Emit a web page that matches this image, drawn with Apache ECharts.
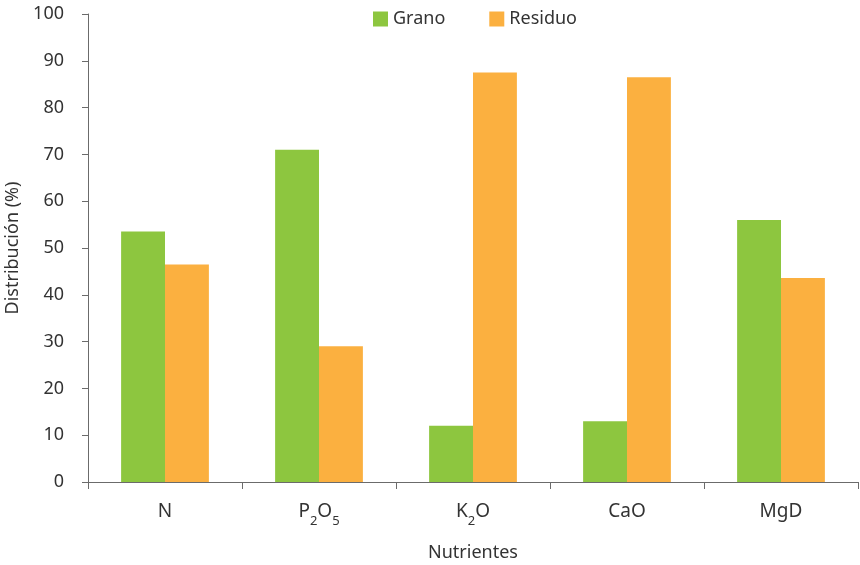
<!DOCTYPE html>
<html>
<head>
<meta charset="utf-8">
<script src="https://cdn.jsdelivr.net/npm/echarts@6/dist/echarts.min.js"></script>
<style>
  html, body { margin: 0; padding: 0; background: #fff; }
  #chart { width: 860px; height: 565px; }
</style>
</head>
<body>
<div id="chart"></div>
<script>
// Nutrient partition between grain and crop residue (%)
const categories = ['N', 'P{s|2}O{s|5}', 'K{s|2}O', 'CaO', 'MgD'];
const grano = [53.5, 71, 12, 13, 56];
const residuo = [46.5, 29, 87.5, 86.5, 43.6];
const yTicks = { min: 0, max: 100, interval: 10 };

const FONT = '"Noto Sans", sans-serif';
const TEXT = '#333333';
const AXIS = '#6b6b6b';

const chart = echarts.init(document.getElementById('chart'), null, { renderer: 'canvas' });

chart.setOption({
  animation: false,
  textStyle: { fontFamily: FONT, color: TEXT },
  legend: {
    top: 5,
    left: 368,
    itemWidth: 15,
    itemHeight: 15,
    itemGap: 44,
    icon: 'rect',
    textStyle: { fontSize: 18, color: TEXT, fontFamily: FONT },
    data: ['Grano', 'Residuo']
  },
  grid: { left: 88, right: 2, top: 14, bottom: 83, containLabel: false, outerBoundsMode: 'none' },
  xAxis: {
    type: 'category',
    data: categories,
    name: 'Nutrientes',
    nameLocation: 'middle',
    nameGap: 62,
    nameTextStyle: { fontSize: 18, color: TEXT, fontFamily: FONT },
    axisLine: { lineStyle: { color: AXIS, width: 1 } },
    axisTick: { show: true, length: 7, lineStyle: { color: AXIS } },
    axisLabel: {
      interval: 0,
      margin: 26,
      formatter: v => '{b|' + v.replace(/\{s\|(\d)\}/g, '}{s|$1}{b|') + '}',
      rich: {
        b: { fontSize: 19, color: TEXT, fontFamily: FONT, verticalAlign: 'bottom', lineHeight: 20, padding: [0, 0, 7, 0] },
        s: { fontSize: 13, color: TEXT, fontFamily: FONT, verticalAlign: 'bottom', lineHeight: 14 }
      }
    }
  },
  yAxis: {
    type: 'value',
    min: yTicks.min,
    max: yTicks.max,
    interval: yTicks.interval,
    name: 'Distribución (%)',
    nameLocation: 'middle',
    nameGap: 64,
    nameRotate: 90,
    nameTextStyle: { fontSize: 18, color: TEXT, fontFamily: FONT },
    axisLine: { show: true, lineStyle: { color: AXIS, width: 1 } },
    axisTick: { show: true, length: 6, lineStyle: { color: AXIS } },
    axisLabel: { margin: 24, fontSize: 18, color: TEXT, fontFamily: FONT },
    splitLine: { show: false }
  },
  series: [
    {
      name: 'Grano',
      type: 'bar',
      data: grano,
      barGap: '0%',
      barCategoryGap: '43%',
      itemStyle: { color: '#8DC63F' }
    },
    {
      name: 'Residuo',
      type: 'bar',
      data: residuo,
      barGap: '0%',
      barCategoryGap: '43%',
      itemStyle: { color: '#FBB040' }
    }
  ]
});
</script>
</body>
</html>
